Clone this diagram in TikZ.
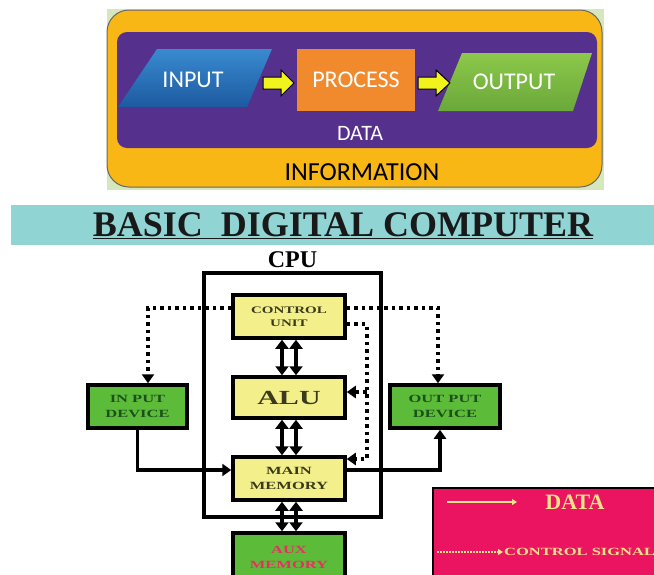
\documentclass[tikz,border=0pt]{standalone}
\usepackage{fontspec}
\setmainfont{Liberation Serif}
\newfontfamily\flowfont{Carlito}
\newfontfamily\widefont[FakeStretch=1.5]{Liberation Serif}
\usetikzlibrary{arrows.meta,positioning}

\definecolor{bgleaf}{HTML}{D5E8BD}
\definecolor{infoorange}{HTML}{F9B716}
\definecolor{datapurple}{HTML}{55308D}
\definecolor{inblue}{HTML}{3A8AD0}
\definecolor{inbluedark}{HTML}{1C5AA0}
\definecolor{procorange}{HTML}{F08A2C}
\definecolor{outgreen}{HTML}{8CC84A}
\definecolor{outgreendark}{HTML}{6AA83A}
\definecolor{flowyellow}{HTML}{F2F21C}
\definecolor{bandteal}{HTML}{91D4D4}
\definecolor{unityellow}{HTML}{F3F08C}
\definecolor{unittext}{HTML}{3A3A1A}
\definecolor{devgreen}{HTML}{5DBB3A}
\definecolor{devtext}{HTML}{1B4F1B}
\definecolor{auxtext}{HTML}{E83060}
\definecolor{keypink}{HTML}{EA1460}
\definecolor{keycream}{HTML}{F5E38A}

\tikzset{
  flowlabel/.style={font=\flowfont\fontsize{24}{24}\selectfont, text=white, inner sep=0pt},
  flowarrow/.style={fill=flowyellow, draw=black, line width=1pt},
  unitbox/.style={draw, line width=3.5pt, fill=unityellow, minimum width=112pt,
    minimum height=43pt, inner sep=0pt, align=center, text=unittext,
    font=\widefont\bfseries\fontsize{10}{13}\selectfont},
  devbox/.style={unitbox, fill=devgreen, text=devtext,
    font=\widefont\bfseries\fontsize{11}{15}\selectfont},
  datalink/.style={line width=3.2pt, -{Triangle[length=9pt,width=12pt]}},
  ctrllink/.style={line width=4pt, dash pattern=on 3.5pt off 4pt,
    -{Triangle[length=9pt,width=12pt]}},
  buslink/.style={line width=3.2pt,
    {Triangle[length=9pt,width=13pt]}-{Triangle[length=9pt,width=13pt]}},
}

\begin{document}
\begin{tikzpicture}[x=1pt,y=-1pt]
  \useasboundingbox (0,0) rectangle (654,574);
  \clip (0,0) rectangle (654,574);

  % information / data / flow
  \fill[bgleaf] (107,9) rectangle (604,190);
  \filldraw[fill=infoorange, draw=black!60, line width=1pt, rounded corners=22pt]
    (107,10) rectangle (602,187);
  \fill[datapurple, rounded corners=10pt] (117,32) rectangle (597,148);
  \shade[top color=inblue, bottom color=inbluedark]
    (118,107) -- (157,49) -- (272,49) -- (247,107) -- cycle;
  \shade[top color=outgreen, bottom color=outgreendark]
    (438,111) -- (462,53) -- (592,53) -- (573,111) -- cycle;
  \node[fill=procorange, minimum width=118pt, minimum height=62pt, inner sep=0pt]
    (process) at (356,80) {};
  \node[flowlabel] (input) at (193,80) {INPUT};
  \node[flowlabel] at (process) {PROCESS};
  \node[flowlabel] (output) at (514,82) {OUTPUT};
  \filldraw[flowarrow] (263,77) -- (281,77) -- (281,70) -- (294,83)
    -- (281,96) -- (281,89) -- (263,89) -- cycle;
  \filldraw[flowarrow] (418,77) -- (436,77) -- (436,70) -- (450,83)
    -- (436,96) -- (436,89) -- (418,89) -- cycle;
  \node[flowlabel, font=\flowfont\fontsize{22}{22}\selectfont] (data) at (360,133) {DATA};
  \node[flowlabel, text=black, font=\flowfont\fontsize{26}{26}\selectfont]
    (information) at (362,172) {INFORMATION};

  % title band
  \fill[bandteal] (11,205) rectangle (654,245);
  \node[anchor=base, inner sep=0pt, text=black!90,
    font=\bfseries\fontsize{36}{36}\selectfont]
    (title) at (343,236) {\underline{BASIC\ \ DIGITAL COMPUTER}};

  % cpu
  \node[draw, line width=3.5pt, minimum width=177pt, minimum height=244pt,
    inner sep=0pt] (cpu) at (292.5,395) {};
  \node[above=3pt of cpu, inner sep=0pt, font=\bfseries\fontsize{24}{24}\selectfont]
    (cpulabel) {CPU};

  \node[unitbox] (cu) at (289,316.5) {CONTROL\\UNIT};
  \node[unitbox, minimum height=41pt, font=\widefont\bfseries\fontsize{20}{20}\selectfont]
    (alu) at (289,397.5) {ALU};
  \node[unitbox, font=\widefont\bfseries\fontsize{11}{15}\selectfont]
    (mm) at (289,478.5) {MAIN\\MEMORY};
  \node[devbox, minimum height=48pt, text=auxtext] (aux) at (289,557) {AUX\\MEMORY};
  \node[devbox, minimum width=99pt] (id) at (137.5,406.5) {IN PUT\\DEVICE};
  \node[devbox, minimum width=110pt] (od) at (445,406.5) {OUT PUT\\DEVICE};

  % buses
  \foreach \dx in {-7,7} {
    \draw[buslink] ([xshift=\dx pt]cu.south) -- ([xshift=\dx pt]alu.north);
    \draw[buslink] ([xshift=\dx pt]alu.south) -- ([xshift=\dx pt]mm.north);
    \draw[buslink] ([xshift=\dx pt]mm.south) -- ([xshift=\dx pt]aux.north);
  }

  % data
  \draw[datalink] (id.south) |- ([yshift=8.5pt]mm.west);
  \draw[datalink] ([yshift=8.5pt]mm.east) -| ([xshift=-5pt]od.south);

  % control signals
  \draw[ctrllink] ([yshift=8.5pt]cu.west) -| ([xshift=10.5pt]id.north);
  \draw[ctrllink] ([yshift=8.5pt]cu.east) -| ([xshift=-7pt]od.north);
  \draw[ctrllink] ([yshift=-7.5pt]cu.east) -- ++(20,0) |- ([yshift=19.5pt]mm.east);
  \draw[ctrllink] ([xshift=20pt,yshift=5.5pt]alu.east) -- ([yshift=5.5pt]alu.east);

  % key
  \node[draw, line width=2pt, fill=keypink, minimum width=230pt, minimum height=100pt,
    anchor=north west] (key) at (432,487) {};
  \coordinate (datafrom) at (447,502);
  \coordinate (datato) at (517,502);
  \coordinate (ctrlfrom) at (437,552);
  \coordinate (ctrlto) at (503,552);
  \draw[keycream, line width=2pt, -{Triangle[length=5pt,width=6pt]}] (datafrom) -- (datato);
  \draw[keycream, line width=2pt, dash pattern=on 1.5pt off 1.5pt,
    -{Triangle[length=5pt,width=6pt]}] (ctrlfrom) -- (ctrlto);
  \node[text=keycream, inner sep=0pt, font=\bfseries\fontsize{22}{22}\selectfont]
    (datakey) at (575,502) {DATA};
  \node[text=keycream, inner sep=0pt, anchor=west,
    font=\widefont\bfseries\fontsize{11}{11}\selectfont]
    (ctrlkey) at (504,552) {CONTROL SIGNAL};
\end{tikzpicture}
\end{document}
